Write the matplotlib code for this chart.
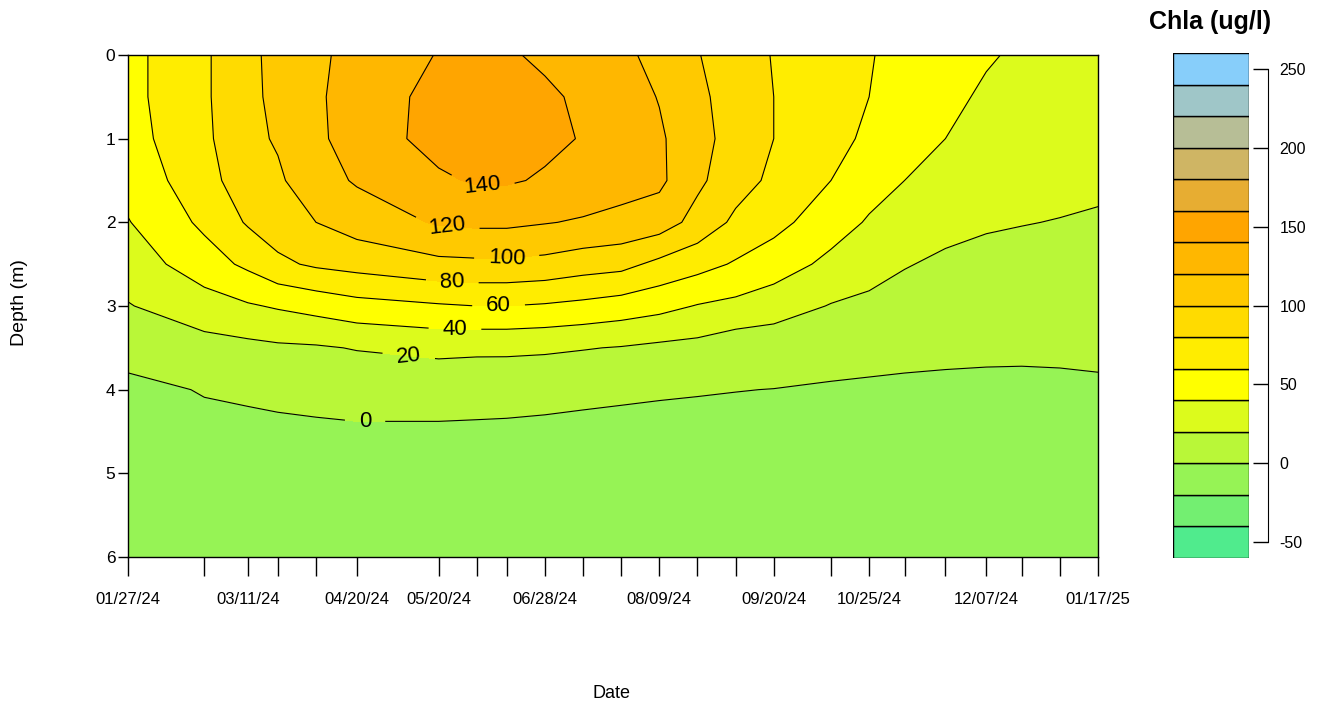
import numpy as np
import pandas as pd
import matplotlib
matplotlib.use("Agg")
import matplotlib.pyplot as plt
import matplotlib.dates as mdates

# sampling dates (one column of the section per date)
dates = ["01/27/24", "02/24/24", "03/11/24", "03/22/24", "04/05/24", "04/20/24",
         "05/20/24", "06/03/24", "06/14/24", "06/28/24", "07/12/24", "07/26/24",
         "08/09/24", "08/23/24", "09/06/24", "09/20/24", "10/11/24", "10/25/24",
         "11/07/24", "11/22/24", "12/07/24", "12/20/24", "01/03/25", "01/17/25"]
label_dates = ["01/27/24", "03/11/24", "04/20/24", "05/20/24", "06/28/24",
               "08/09/24", "09/20/24", "10/25/24", "12/07/24", "01/17/25"]

depths = [0, 0.5, 1, 1.5, 2, 2.5, 3, 3.5, 4, 5, 6]

# chla (ug/l), one row per date, one value per depth
chla = np.array([
    [54, 54, 52, 47, 39, 29, 19, 7, -4.7, -12, -14],
    [77, 77, 76, 72, 64, 51, 31, 13, 1, -10, -13],
    [96, 96, 95, 92, 82, 64, 38, 15, 2.5, -10, -13],
    [105, 104, 102, 97, 90, 76, 42, 17, 3.7, -10, -13],
    [117, 117, 116, 112, 100, 83, 47, 18, 4.9, -10, -13],
    [125, 129, 129, 122, 109, 87, 53, 21, 6.1, -10, -13],
    [141, 146, 147, 137, 122, 95, 58, 25, 6.1, -10, -13],
    [146, 150, 150, 142, 124, 96, 60, 24, 5.6, -10, -13],
    [142, 148, 148, 142, 124, 96, 60, 24, 5.2, -10, -13],
    [137, 143, 144, 138, 121, 94, 58, 23, 4.3, -10, -13],
    [130, 137, 139, 133, 118, 89, 55, 21, 3.2, -10, -13],
    [123, 130, 132, 127, 115, 86, 51, 19, 2.3, -10, -13],
    [116, 119, 123, 124, 110, 75, 46, 16, 1.5, -10, -13],
    [101, 104, 106, 104, 93, 67, 39, 14, 0.9, -10, -13],
    [89, 92, 93, 88, 76, 58, 35, 8, 0.3, -10, -13],
    [79, 80, 80, 76, 66, 50, 29, 8, -0.2, -10, -13],
    [69, 69, 67, 60, 49, 35, 19, 7, -1.75, -10, -13],
    [61, 60, 56, 48, 38, 27, 16, 6, -2.6, -10, -13],
    [55, 52, 47, 40, 31, 21, 13, 5, -3.3, -10, -13],
    [48, 45, 40, 34, 25, 17, 11, 4, -3.7, -10, -13],
    [42, 37, 32, 27, 21.5, 16, 10, 4, -4.7, -10, -13],
    [37, 34, 30, 26, 20.5, 15, 10, 4, -5.1, -10, -13],
    [34, 31, 28, 24, 19.5, 15, 10, 4, -4.3, -10, -13],
    [32, 29, 26, 22.5, 18.5, 14, 9, 3.5, -2.5, -10, -13],
])

levels = [-60, -40, -20, 0, 20, 40, 60, 80, 100, 120, 140, 160, 180, 200, 220, 240, 260]
line_levels = [0, 20, 40, 60, 80, 100, 120, 140]
colors = ["#50EB8D", "#73EF71", "#96F355", "#B9F738", "#DCFB1C", "#FFFF00",
          "#FFED00", "#FFDB00", "#FFC900", "#FFB700", "#FFA500", "#E7AD32",
          "#CFB564", "#B7BE96", "#9FC6C8", "#87CEFA"]
key_ticks = [-50, 0, 50, 100, 150, 200, 250]

# where the contour labels sit (date, depth)
label_pos = [("06/05/24", 1.62), ("05/23/24", 2.08), ("06/14/24", 2.43),
             ("05/25/24", 2.72), ("06/11/24", 2.99), ("05/26/24", 3.26),
             ("05/09/24", 3.61), ("04/23/24", 4.40)]

plt.rcParams['font.family'] = ['Liberation Sans', 'DejaVu Sans']
plt.rcParams['axes.unicode_minus'] = False

x = mdates.date2num(pd.to_datetime(dates, format="%m/%d/%y"))

fig = plt.figure(figsize=(13.22, 7.07), dpi=100)
ax = fig.add_axes([128/1322, 1-557/707, 970/1322, 502/707])

ax.contourf(x, depths, chla.T, levels=levels, colors=colors)
cs = ax.contour(x, depths, chla.T, levels=line_levels, colors="black", linewidths=0.8)
manual = [(mdates.date2num(pd.to_datetime(d, format="%m/%d/%y")), z) for d, z in label_pos]
ax.clabel(cs, fmt="%d", manual=manual, fontsize=16, inline_spacing=14)

ax.set_xlim(x[0], x[-1])
ax.set_ylim(6, 0)
ax.set_xticks(x)
ax.set_xticklabels([d if d in label_dates else "" for d in dates])
ax.set_yticks([0, 1, 2, 3, 4, 5, 6])
ax.tick_params(axis="x", length=14, width=1, pad=11, labelsize=12)
ax.tick_params(axis="y", length=7, width=1, pad=2, labelsize=12.5)
for s in ax.spines.values():
    s.set_linewidth(1)

fig.text(20/1322, 1-303/707, "Depth (m)", rotation=90, ha="center", va="center", fontsize=14)
fig.text(612/1322, 1-693/707, "Date", ha="center", va="center", fontsize=13)

# colour key
cax = fig.add_axes([1173/1322, 1-558/707, 76/1322, 505/707])
cax.bar(0.5, np.diff(levels), bottom=levels[:-1], width=1, color=colors,
        edgecolor="black", linewidth=1)
cax.set_xlim(0, 1)
cax.set_ylim(levels[0], levels[-1])
cax.set_xticks([])
for side in ["top", "left", "bottom"]:
    cax.spines[side].set_visible(False)
cax.spines["right"].set_position(("outward", 14))
cax.spines["right"].set_bounds(key_ticks[0], key_ticks[-1])
cax.yaxis.tick_right()
cax.set_yticks(key_ticks)
cax.tick_params(axis="y", direction="in", length=11, width=1, pad=8, labelsize=11.5)
fig.text(1210/1322, 1-22/707, "Chla (ug/l)", ha="center", va="center",
         fontsize=18, fontweight="bold")

fig.savefig("out.png", dpi=100)
